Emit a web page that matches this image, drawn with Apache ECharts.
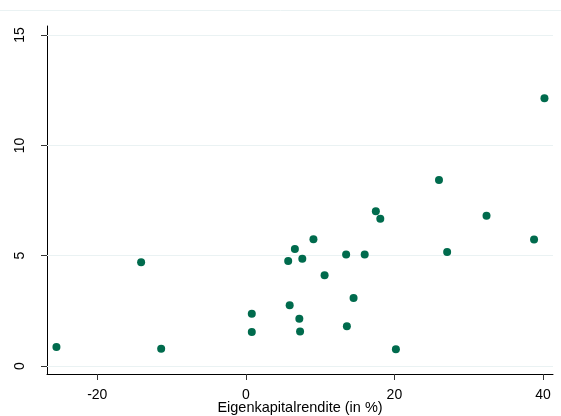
<!DOCTYPE html>
<html>
<head>
<meta charset="utf-8">
<script src="https://cdn.jsdelivr.net/npm/echarts@6/dist/echarts.min.js"></script>
<style>html,body{margin:0;padding:0;background:#fff;}#c{width:561px;height:416px;}</style>
</head>
<body>
<div id="c"></div>
<script>
const roeValues = [-25.5, -14.1, -11.4, 0.8, 0.8, 5.7, 5.9, 6.6, 7.2, 7.3, 7.6, 9.1, 10.6, 13.5, 13.6, 14.5, 16.0, 17.5, 18.1, 20.2, 26.0, 27.1, 32.4, 38.8, 40.2];
const yValues = [0.86, 4.70, 0.78, 2.37, 1.54, 4.76, 2.75, 5.31, 2.14, 1.57, 4.86, 5.75, 4.11, 5.06, 1.80, 3.08, 5.06, 7.02, 6.67, 0.76, 8.43, 5.17, 6.81, 5.74, 12.14];
const xTicks = [-20, 0, 20, 40];
const yTicks = [0, 5, 10, 15];
const xTitle = 'Eigenkapitalrendite (in %)';

const points = roeValues.map((x, i) => [x, yValues[i]]);
const font = '"Liberation Sans", Arial, sans-serif';
const chart = echarts.init(document.getElementById('c'), null, {renderer: 'canvas'});
chart.setOption({
  animation: false,
  backgroundColor: '#ffffff',
  grid: {left: 47, right: 8, top: 26, bottom: 42, containLabel: false, outerBoundsMode: 'none'},
  graphic: [{
    type: 'line', shape: {x1: 0, y1: 10.5, x2: 561, y2: 10.5},
    style: {stroke: '#eaf2f3', lineWidth: 1}, silent: true
  }],
  xAxis: {
    type: 'value', min: -26.77, max: 41.35,
    name: xTitle, nameLocation: 'middle', nameGap: 26, nameMoveOverlap: false,
    nameTextStyle: {fontFamily: font, fontSize: 14.5, color: '#000'},
    axisLine: {show: true, onZero: false, lineStyle: {color: '#000', width: 1}},
    axisTick: {show: true, length: 6, customValues: xTicks, lineStyle: {color: '#333'}},
    axisLabel: {customValues: xTicks, fontFamily: font, fontSize: 14, color: '#000', margin: 14},
    splitLine: {show: false}
  },
  yAxis: {
    type: 'value', min: -0.36, max: 15.41,
    axisLine: {show: true, onZero: false, lineStyle: {color: '#000', width: 1}},
    axisTick: {show: true, length: 6, customValues: yTicks, lineStyle: {color: '#333'}},
    axisLabel: {customValues: yTicks, rotate: 90, fontFamily: font, fontSize: 14, color: '#000', margin: 20},
    splitLine: {show: false}
  },
  series: [{
    type: 'scatter',
    data: points,
    symbol: 'circle',
    symbolSize: 8,
    itemStyle: {color: '#006b4d', opacity: 1},
    z: 3,
    markLine: {
      silent: true, symbol: 'none', z: 1,
      label: {show: false},
      lineStyle: {color: '#eaf2f3', width: 1, type: 'solid'},
      data: yTicks.map(v => ({yAxis: v}))
    }
  }]
});
</script>
</body>
</html>
